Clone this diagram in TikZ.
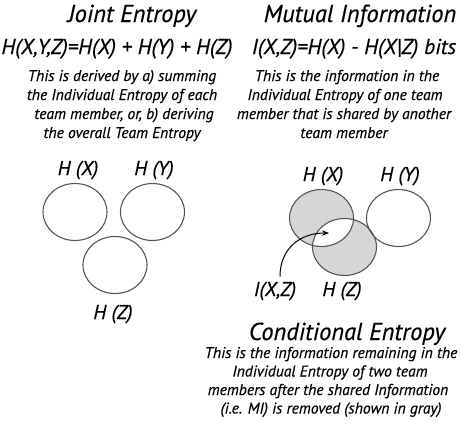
\documentclass[tikz,border=0pt]{standalone}
\usepackage{fontspec}
\setmainfont{PT Sans}[FakeBold=0.35]
\usetikzlibrary{shapes.geometric,arrows.meta}
\definecolor{lineg}{HTML}{555555}
\definecolor{fillg}{HTML}{D6D6D6}
\tikzset{
  ttl/.style={font=\fontsize{24.5}{28}\selectfont\itshape, inner sep=0pt, anchor=base},
  eqn/.style={font=\fontsize{21.5}{24}\selectfont\itshape, inner sep=0pt, anchor=base},
  bline/.style={font=\fontsize{15.6}{19}\selectfont\itshape, inner sep=0pt, anchor=base},
  lbl/.style={font=\fontsize{20}{23}\selectfont\itshape, inner sep=0pt, anchor=base},
  set/.style={ellipse, draw=lineg, line width=1.1pt, minimum width=64pt, minimum height=57pt, inner sep=0pt}
}
\begin{document}
\begin{tikzpicture}[x=1pt,y=1pt]
\useasboundingbox (0,0) rectangle (461,-426);
% titles
\node[ttl] (t1) at (132,-22) {Joint Entropy};
\node[ttl] (t2) at (360,-22) {Mutual Information};
\node[ttl] (t3) at (347,-340) {Conditional Entropy};
% equations
\node[eqn] (e1) at (117,-54) {H(X,Y,Z)=H(X) + H(Y) + H(Z)};
\node[eqn] (e2) at (354,-54) {I(X,Z)=H(X) - H(X|Z) bits};
% bodies
\node[bline] (b11) at (122,-81) {This is derived by a) summing};
\node[bline] (b12) at (122,-100) {the Individual Entropy of each};
\node[bline] (b13) at (124,-119) {team member, or, b) deriving};
\node[bline] (b14) at (122,-138) {the overall Team Entropy};
\node[bline] (b21) at (347,-81) {This is the information in the};
\node[bline] (b22) at (345,-100) {Individual Entropy of one team};
\node[bline] (b23) at (344,-119) {member that is shared by another};
\node[bline] (b24) at (344,-138) {team member};
\node[bline] (b31) at (331,-358) {This is the information remaining in the};
\node[bline] (b32) at (330,-376.5) {Individual Entropy of two team};
\node[bline] (b33) at (328,-395) {members after the shared Information};
\node[bline] (b34) at (331,-413.5) {(i.e. MI) is removed (shown in gray)};
% left diagram
\node[set] (lx) at (75,-212) {};
\node[set] (ly) at (152.5,-212) {};
\node[set] (lz) at (115,-265) {};
\node[lbl] (llx) at (78,-175) {H (X)};
\node[lbl] (lly) at (154,-175) {H (Y)};
\node[lbl] (llz) at (113,-319) {H (Z)};
% right diagram
\fill[fillg, even odd rule] (321.5,-218) ellipse [x radius=32, y radius=28.5] (344.5,-247) ellipse [x radius=32, y radius=28.5];
\node[set] (rx) at (321.5,-218) {};
\node[set] (ry) at (398.5,-218) {};
\node[set] (rz) at (344.5,-247) {};
\node[lbl] (rlx) at (323,-181) {H (X)};
\node[lbl] (rly) at (400,-181) {H (Y)};
\node[lbl] (rlz) at (342,-296) {H (Z)};
\node[lbl] (riz) at (275,-296) {I(X,Z)};
\coordinate (mi) at (329,-233);
\draw[line width=1pt, -{Stealth[length=7pt,width=5.5pt]}] ([xshift=5pt,yshift=5pt]riz.north) .. controls +(0,28) and (300,-233) .. (mi);
\end{tikzpicture}
\end{document}
